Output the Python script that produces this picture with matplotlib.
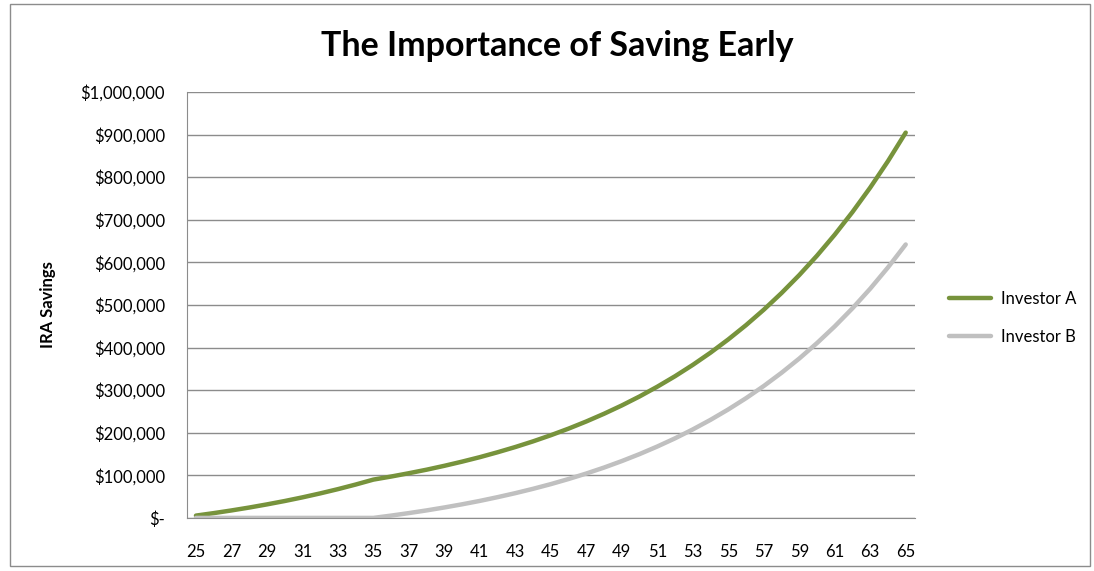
import matplotlib
matplotlib.use("Agg")
import matplotlib.pyplot as plt
from matplotlib.ticker import FuncFormatter
from matplotlib.patches import Rectangle

plt.rcParams['font.family'] = ['Lato', 'DejaVu Sans']

ages = list(range(25, 66))
# IRA savings in dollars
investor_a = [5400, 11200, 17500, 24300, 31700, 39600, 48200, 57500, 67500, 78300,
              89900, 97100, 104900, 113200, 122300, 132100, 142600, 154100, 166400, 179700,
              194100, 209600, 226400, 244500, 264000, 285100, 308000, 332600, 359200, 387900,
              419000, 452500, 488700, 527800, 570000, 615600, 664900, 718100, 775500, 837500,
              904500]
investor_b = [0, 0, 0, 0, 0, 0, 0, 0, 0, 0,
              0, 5400, 11300, 17600, 24500, 31900, 39900, 48700, 58100, 68300,
              79300, 91300, 104200, 118200, 133400, 149800, 167600, 186800, 207700, 230200,
              254600, 281000, 309600, 340600, 374100, 410400, 449600, 492100, 538100, 588000,
              641900]
tick_ages = list(range(25, 66, 2))

fig = plt.figure(figsize=(10.94, 5.71), dpi=100)
ax = fig.add_axes([0.171, 0.093, 0.665, 0.746])

ax.plot(ages, investor_a, color='#77933C', lw=3.2, label='Investor A', solid_capstyle='round')
ax.plot(ages, investor_b, color='#C0C0C0', lw=3.2, label='Investor B', solid_capstyle='round')

ax.set_xlim(24.5, 65.5)
ax.set_ylim(0, 1000000)
ax.set_xticks(tick_ages)
ax.set_yticks(range(0, 1000001, 100000))

def money(v, pos):
    if v == 0:
        return '$-'
    return '${:,.0f}'.format(v)

ax.yaxis.set_major_formatter(FuncFormatter(money))
ax.tick_params(length=0, labelsize=12, colors='black')
ax.tick_params(axis='y', pad=16)
ax.tick_params(axis='x', pad=19)
ax.grid(axis='y', color='#8C8C8C', lw=1)
ax.set_axisbelow(True)
for s in ['top', 'right']:
    ax.spines[s].set_visible(False)
ax.spines['left'].set_color('#8C8C8C')
ax.spines['bottom'].set_color('#8C8C8C')

ax.set_ylabel('IRA Savings', fontsize=12, fontweight='bold')
ax.yaxis.set_label_coords(-0.180, 0.5)

fig.text(0.509, 0.92, 'The Importance of Saving Early', fontsize=24.5, fontweight='bold',
         ha='center', va='center')

ax.legend(loc='center left', bbox_to_anchor=(1.027, 0.47), frameon=False, fontsize=12,
          handlelength=2.5, labelspacing=1.3, handletextpad=0.6)

fig.patches.append(Rectangle((0.009, 0.008), 0.987, 0.985, transform=fig.transFigure,
                             fill=False, edgecolor='#8C8C8C', lw=1))

fig.savefig('out.png', dpi=100)
